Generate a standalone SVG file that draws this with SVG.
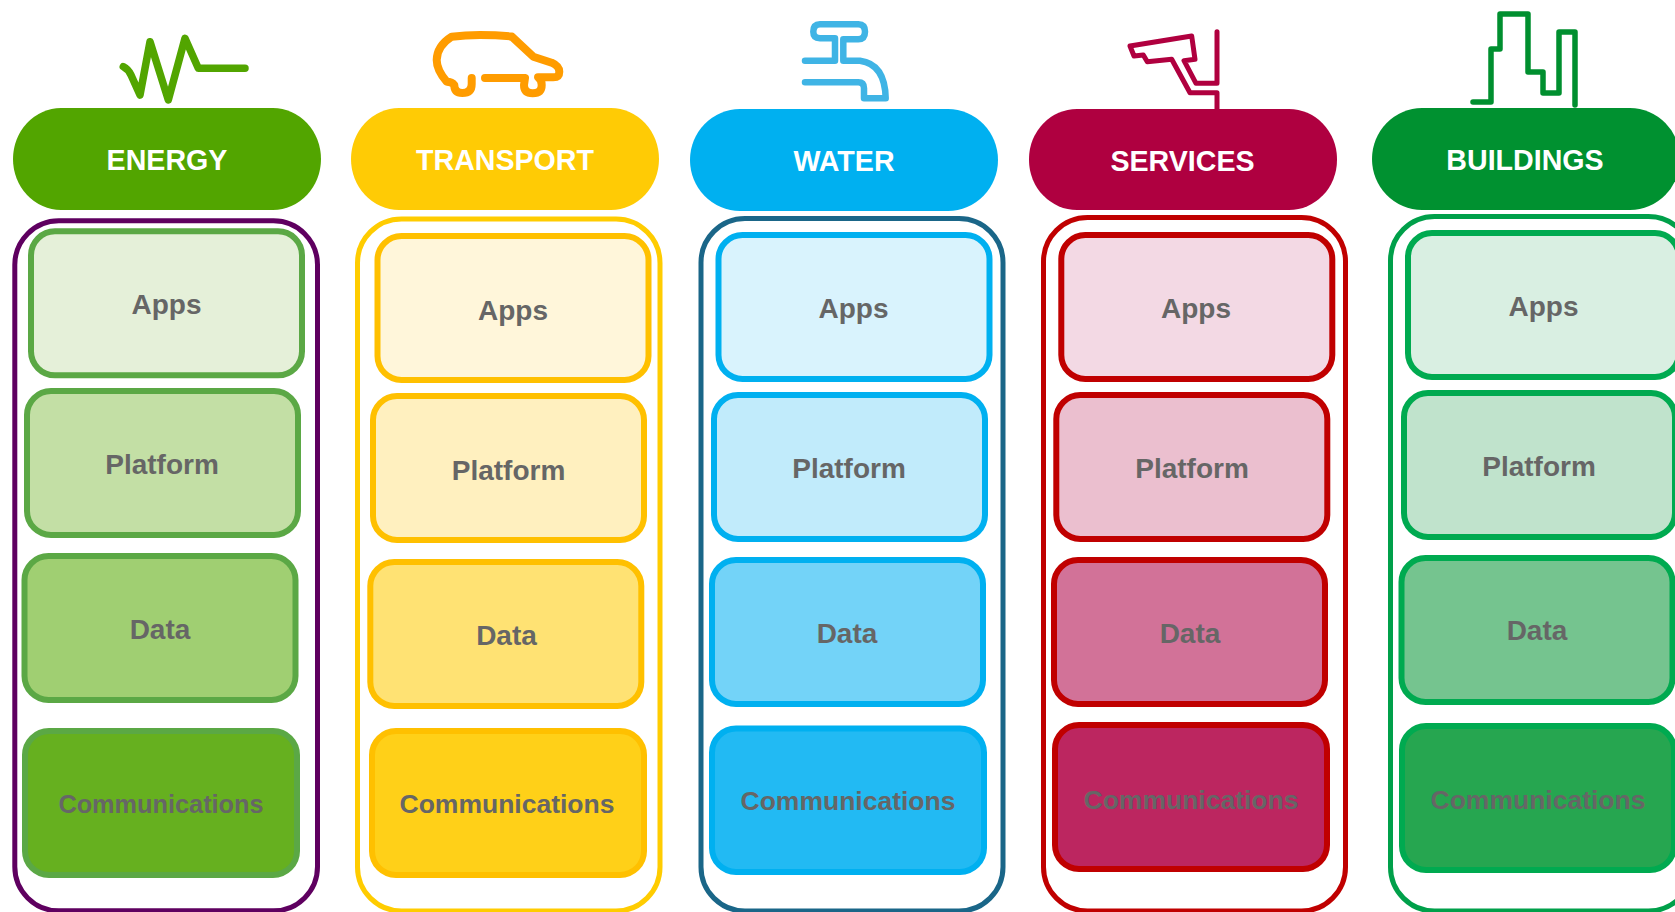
<svg xmlns="http://www.w3.org/2000/svg" width="1675" height="912" viewBox="0 0 1675 912">
<style>
text{font-family:"Liberation Sans",Arial,sans-serif;font-weight:700;text-anchor:middle}
.h{font-size:28.6px;fill:#fff}
.t{font-size:28px;fill:#666}
.m{font-size:26.5px;fill:#666}
.o{fill:none;stroke-width:5}
.c{stroke-width:6}
.i{fill:none;stroke-linejoin:round;stroke-linecap:round}
.e .c{stroke:#5ba845}.tr .c{stroke:#ffc000}.w .c{stroke:#00b0f0}.s .c{stroke:#c00000}.b .c{stroke:#00aa50}
</style>
<rect width="1675" height="912" fill="#fff"/>
<g id="energy" class="e">
<path id="energy-icon" class="i" stroke="#52a500" stroke-width="7.5" d="M123.300 66.700Q128 69 131 75L140 95 150 41.700 168.300 100 185 38.300 198.300 68.300H245"/>
<g id="energy-header"><rect x="13" y="108" width="308" height="102" rx="48" ry="51" fill="#52a500"/><text class="h" x="167" y="170">ENERGY</text></g>
<rect id="energy-frame" class="o" x="14.800" y="220.800" width="302.700" height="690" rx="44" stroke="#5f0060"/>
<g id="energy-apps"><rect class="c" x="31" y="231.300" width="271" height="144" rx="24" fill="#e5f0d9"/><text class="t" x="166.500" y="314">Apps</text></g>
<g id="energy-platform"><rect class="c" x="27" y="391" width="271" height="144" rx="24" fill="#c3dfa5"/><text class="t" x="162" y="474">Platform</text></g>
<g id="energy-data"><rect class="c" x="24.500" y="556" width="271" height="144" rx="24" fill="#a0cf72"/><text class="t" x="160" y="639">Data</text></g>
<g id="energy-communications"><rect class="c" x="25" y="731" width="272" height="144" rx="24" fill="#66b01f"/><text class="m" style="font-size:25.300px" x="161" y="813">Communications</text></g>
</g>
<g id="transport" class="tr">
<path id="transport-icon" class="i" stroke="#ff9c00" stroke-width="8" d="M471.700 78V84Q471.700 93 462.300 93 454.300 93 454.300 85 452 81.700 446.700 81.700 436.700 70 436.700 60 437 46 451.700 36.700 465 35 480 35 497 35 511.700 36.500L533.300 56.700 551.700 62.700Q559.300 66 559.300 71.700 559.300 77.300 553.300 77.300H538Q541.700 80 541.700 85 541.700 93.300 532.700 93.300 524 93.300 524 85L525 78H485"/>
<g id="transport-header"><rect x="351" y="108" width="308" height="102" rx="48" ry="51" fill="#ffcb05"/><text class="h" x="505" y="170">TRANSPORT</text></g>
<rect id="transport-frame" class="o" x="357.500" y="219" width="302.500" height="692" rx="44" stroke="#ffcc00"/>
<g id="transport-apps"><rect class="c" x="377.500" y="236" width="271" height="144" rx="24" fill="#fff6da"/><text class="t" x="513" y="320">Apps</text></g>
<g id="transport-platform"><rect class="c" x="373" y="396" width="271" height="144" rx="24" fill="#fff0bf"/><text class="t" x="508.500" y="480">Platform</text></g>
<g id="transport-data"><rect class="c" x="370.300" y="562" width="271" height="144" rx="24" fill="#ffe273"/><text class="t" x="506.500" y="645">Data</text></g>
<g id="transport-communications"><rect class="c" x="372" y="731" width="272" height="144" rx="24" fill="#ffd018"/><text class="m" x="507" y="813">Communications</text></g>
</g>
<g id="water" class="w">
<path id="water-icon" class="i" stroke="#3fb4e5" stroke-width="6.500" d="M805 60.700H835V38.300H820Q813.300 38 813.300 31.700 813.300 24.500 820 24.300H858.300Q865 24.500 865 31.700 865 39 858.300 39.300H843.300V60.700H860Q885 64 885.700 98.300H864V88.300Q864 82.300 858.300 82.300H805"/>
<g id="water-header"><rect x="690" y="109" width="308" height="102" rx="50" ry="51" fill="#00b0f0"/><text class="h" x="844" y="171">WATER</text></g>
<rect id="water-frame" class="o" x="701" y="218.500" width="302" height="692.500" rx="44" stroke="#1a6688"/>
<g id="water-apps"><rect class="c" x="718.500" y="235" width="271" height="144" rx="24" fill="#d9f3fd"/><text class="t" x="853.500" y="318">Apps</text></g>
<g id="water-platform"><rect class="c" x="714" y="395" width="271" height="144" rx="24" fill="#c1ebfb"/><text class="t" x="849" y="478">Platform</text></g>
<g id="water-data"><rect class="c" x="712" y="560" width="271" height="144" rx="24" fill="#73d3f8"/><text class="t" x="847" y="643">Data</text></g>
<g id="water-communications"><rect class="c" x="712" y="728.500" width="272" height="143.500" rx="24" fill="#22baf3"/><text class="m" x="848" y="810">Communications</text></g>
</g>
<g id="services" class="s">
<path id="services-icon" class="i" stroke="#b0003f" stroke-width="5" d="M1217 31.700V83.300H1196L1184 60.700 1195 59.300 1191.700 36 1130 46 1134 56 1143.300 55 1147.300 61.700 1171.700 59.300 1190 92.700H1217V110"/>
<g id="services-header"><rect x="1029" y="109" width="308" height="101" rx="48" ry="50" fill="#af0040"/><text class="h" x="1182.500" y="171">SERVICES</text></g>
<rect id="services-frame" class="o" x="1043.500" y="217.500" width="302" height="693.500" rx="44" stroke="#c00000"/>
<g id="services-apps"><rect class="c" x="1061.300" y="235" width="271" height="144" rx="24" fill="#f3d9e4"/><text class="t" x="1196" y="318">Apps</text></g>
<g id="services-platform"><rect class="c" x="1056.300" y="395" width="271" height="144" rx="24" fill="#ebbfcf"/><text class="t" x="1192" y="478">Platform</text></g>
<g id="services-data"><rect class="c" x="1054" y="560" width="271" height="144" rx="24" fill="#d27298"/><text class="t" x="1190" y="643">Data</text></g>
<g id="services-communications"><rect class="c" x="1055" y="725" width="272" height="144" rx="24" fill="#bc2660"/><text class="m" x="1191" y="809">Communications</text></g>
</g>
<g id="buildings" class="b">
<path id="buildings-icon" class="i" stroke="#008f2f" stroke-width="5.500" d="M1473 102H1491V49H1500V14H1528V72H1543V93H1559V32H1575V105"/>
<g id="buildings-header"><rect x="1372" y="108" width="308" height="102" rx="50" ry="51" fill="#009130"/><text class="h" x="1525" y="170">BUILDINGS</text></g>
<rect id="buildings-frame" class="o" x="1390.500" y="216.500" width="302" height="694.500" rx="44" stroke="#00a04a"/>
<g id="buildings-apps"><rect class="c" x="1408" y="233" width="271" height="144" rx="24" fill="#d9efe2"/><text class="t" x="1543.500" y="316">Apps</text></g>
<g id="buildings-platform"><rect class="c" x="1404" y="393" width="271" height="144" rx="24" fill="#c0e3cc"/><text class="t" x="1539" y="476">Platform</text></g>
<g id="buildings-data"><rect class="c" x="1401.500" y="558" width="271" height="144" rx="24" fill="#75c48f"/><text class="t" x="1537" y="640">Data</text></g>
<g id="buildings-communications"><rect class="c" x="1402" y="726" width="272" height="144" rx="24" fill="#26a650"/><text class="m" x="1538" y="809">Communications</text></g>
</g>
</svg>
